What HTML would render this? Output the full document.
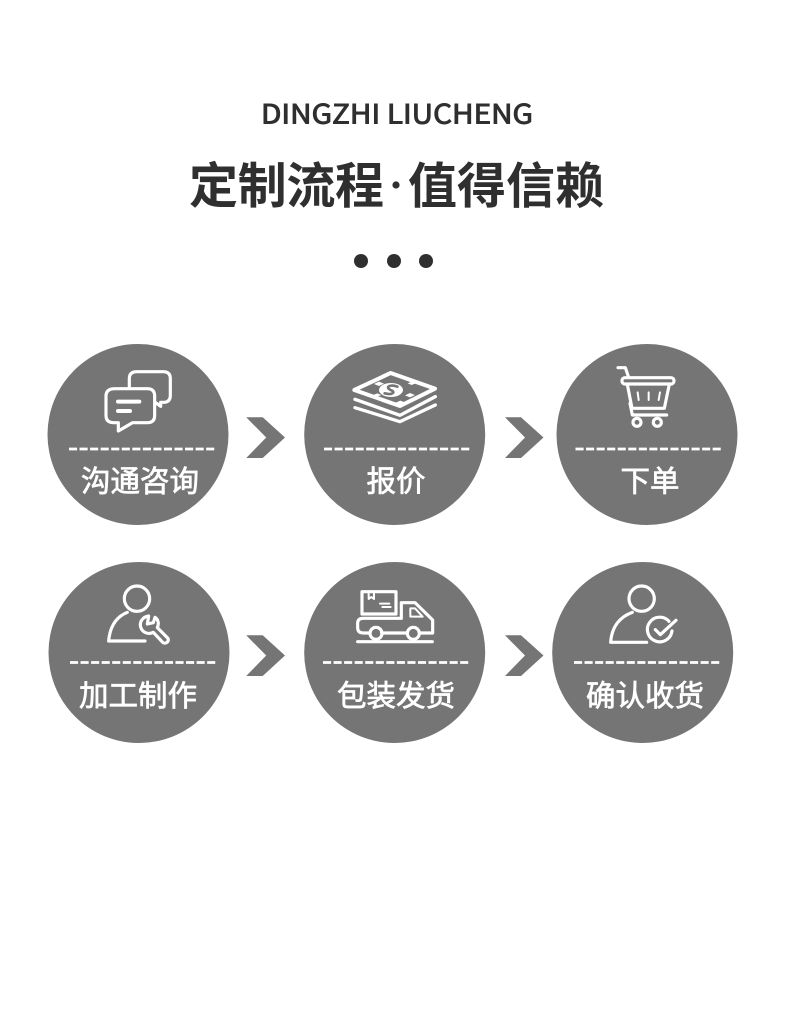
<!DOCTYPE html>
<html lang="zh"><head><meta charset="utf-8"><title>定制流程</title>
<style>
html,body{margin:0;padding:0;background:#fff}
svg{display:block}
text{font-family:"Liberation Sans","Noto Sans CJK SC",sans-serif}
.t{font-family:"Noto Sans CJK SC","Liberation Sans",sans-serif;fill:#2f2f2f}
.l{font-family:"Liberation Sans","Noto Sans CJK SC",sans-serif;fill:#fff;font-size:29.500px;font-weight:400;text-anchor:middle;stroke:#fff;stroke-width:.7}
.d{stroke:#fff;stroke-width:2.700;stroke-dasharray:8.100 2.450;fill:none}
.i{fill:none;stroke:#fff;stroke-width:9.500;stroke-linecap:round;stroke-linejoin:round}
.i2{fill:none;stroke:#fff;stroke-width:6;stroke-linecap:round;stroke-linejoin:round}
</style></head><body>
<svg width="790" height="1026" viewBox="0 0 790 1026" xmlns="http://www.w3.org/2000/svg">
<rect width="790" height="1026" fill="#fff"/>
<text class="t" x="261" y="123.500" font-size="26.500" font-weight="400" stroke="#2f2f2f" stroke-width=".9" textLength="272" lengthAdjust="spacingAndGlyphs">DINGZHI LIUCHENG</text>
<text class="t" x="189" y="203" font-size="49" font-weight="700" textLength="195" lengthAdjust="spacing">定制流程</text>
<circle cx="396" cy="185" r="3.600" fill="#2f2f2f"/>
<text class="t" x="408" y="203" font-size="49" font-weight="700" textLength="196" lengthAdjust="spacing">值得信赖</text>
<circle cx="361" cy="261" r="7" fill="#2f2f2f"/><circle cx="394" cy="261" r="7" fill="#2f2f2f"/><circle cx="426" cy="261" r="7" fill="#2f2f2f"/>

<g fill="#757575">
<circle cx="138" cy="434.500" r="90.500"/><circle cx="394.700" cy="434.500" r="90.500"/><circle cx="647" cy="434.500" r="90.500"/>
<circle cx="139" cy="652.500" r="90.500"/><circle cx="394.700" cy="652.500" r="90.500"/><circle cx="642.700" cy="652.500" r="90.500"/>
<path d="M246.200 417.300H262.700L285 437.500L262.700 458H246.200L266.200 437.500Z"/>
<path d="M505 417.300H521L543.500 437.500L521 458H505L525 437.500Z"/>
<path d="M246.200 635.300H262.700L285 655.500L262.700 676H246.200L266.200 655.500Z"/>
<path d="M505 635.300H521L543.500 655.500L521 676H505L525 655.500Z"/>
</g>

<path class="d" d="M69 449H214.300"/><path class="d" d="M324 449H469.300"/><path class="d" d="M575.500 449H720.800"/>
<path class="d" d="M70 662.500H215.300"/><path class="d" d="M323 662.500H468.300"/><path class="d" d="M574 662.500H719.300"/>

<text class="l" x="140" y="491.500">沟通咨询</text>
<text class="l" x="396" y="491.500">报价</text>
<text class="l" x="650" y="491.500">下单</text>
<text class="l" x="138" y="706">加工制作</text>
<text class="l" x="396" y="706">包装发货</text>
<text class="l" x="645" y="706">确认收货</text>

<!-- chat icon -->
<g transform="translate(40,340) scale(.3333)">
<path class="i" d="M225 146H322Q344 146 344 168V226Q344 248 322 248H278L235 273V248H222Q198 248 198 226V168Q198 146 225 146Z"/>
<path class="i" d="M268 140V116Q268 95 290 95H370Q391 95 391 116V166Q391 187 370 187H362V199L347 188"/>
<path d="M234 185H298M234 213H270" fill="none" stroke="#fff" stroke-width="12" stroke-linecap="round"/>
</g>

<!-- money icon -->
<g transform="translate(300,340) scale(.3333)">
<path d="M163 150L272 99L405 146L300 198Z" fill="none" stroke="#fff" stroke-width="12" stroke-linejoin="round"/>
<path d="M165 178L300 226L406 170M165 203L300 245L406 195" fill="none" stroke="#fff" stroke-width="10" stroke-linecap="round" stroke-linejoin="round"/>
<ellipse cx="273" cy="150" rx="36" ry="21" fill="#fff"/>
<path d="M292 140C270 132 254 142 272 150C288 156 278 166 254 160" fill="none" stroke="#757575" stroke-width="8" stroke-linecap="round"/>
<path d="M222 132l15-7l15 6l-15 7zM315 166l15-7l15 6l-15 7zM220 165l12-5l12 5l-12 5zM323 130l12-5l12 5l-12 5zM282 190l19-8l19 7l-19 8z" fill="#fff"/>
</g>

<!-- cart icon -->
<g transform="translate(550,340) scale(.3333)">
<path class="i" d="M204 83H226L236 112"/>
<rect x="216" y="113" width="156" height="19" rx="9" class="i"/>
<path class="i" d="M232 133L246 205H343L358 133"/>
<path class="i" d="M240 190L247 225H350"/>
<circle cx="261" cy="247" r="12" class="i"/><circle cx="322" cy="247" r="12" class="i"/>
<path class="i2" d="M263 157L266 180M296 157V180M330 157L326 180"/>
</g>

<!-- person wrench icon -->
<g transform="translate(40,555) scale(.3333)">
<circle cx="291" cy="131" r="38" class="i"/>
<path class="i" d="M262 172C230 185 210 212 206 258H315"/>
<path class="i" d="M326 183C308 186 298 200 302 216C306 232 325 240 340 232L368 262C375 268 388 262 384 250L352 218C358 205 354 192 345 187L340 203L322 207Z"/>
</g>

<!-- truck icon -->
<g transform="translate(300,555) scale(.3333)">
<rect x="186" y="110" width="102" height="67" class="i"/>
<path class="i2" d="M206 112V132L214 126L222 132V112M240 146H268M247 156H272"/>
<path class="i" d="M304 190V143H345L398 195V234H360M320 234H245M208 234H190Q173 234 173 218V205Q173 190 190 190H304"/>
<path class="i2" d="M331 160H345L368 185H331Z"/>
<circle cx="228" cy="235" r="18" class="i"/><circle cx="340" cy="235" r="18" class="i"/>
<path class="i" d="M173 260H397"/>
</g>

<!-- person check icon -->
<g transform="translate(545,555) scale(.3333)">
<circle cx="290" cy="131" r="38" class="i"/>
<path class="i" d="M262 172C225 185 200 215 197 262H305"/>
<path class="i" d="M372 199A37 37 0 1 0 381 228"/>
<path class="i" d="M331 224L346 239L393 196"/>
</g>
</svg>
</body></html>
